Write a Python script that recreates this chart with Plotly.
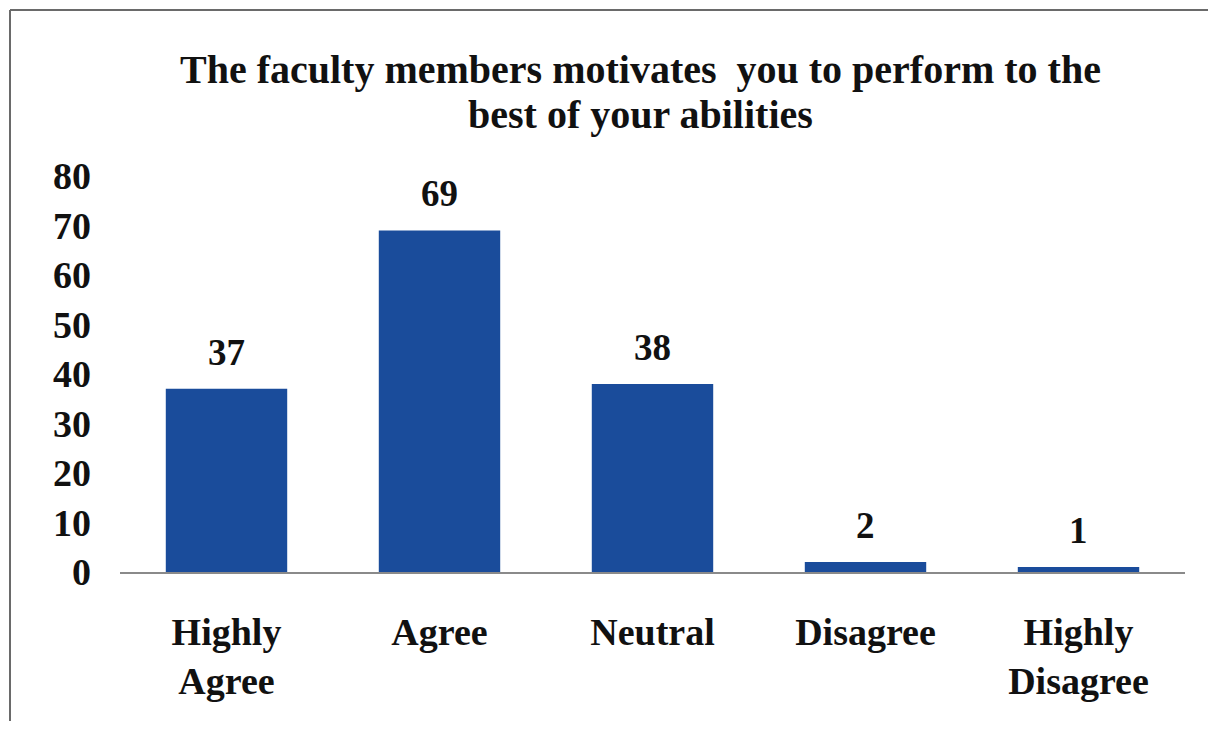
import plotly.graph_objects as go

CATEGORIES = ["Highly<br>Agree", "Agree", "Neutral", "Disagree", "Highly<br>Disagree"]
RESPONSES = [37, 69, 38, 2, 1]
Y_TICKS = [0, 10, 20, 30, 40, 50, 60, 70, 80]

TITLE_LINES = ["The faculty members motivates  you to perform to the",
               "best of your abilities"]

BAR_COLOR = "#1a4c9b"
FONT = "Times New Roman, Liberation Serif, serif"
TEXT_COLOR = "#111111"
FRAME_COLOR = "#6a6a6a"

# figure is drawn 8px in from the page corner (body margin), keep it inside the window
FIG_W, FIG_H = 1200, 713
# plot area in figure pixels
PX_L, PX_R, PX_T, PX_B = 112, 1177, 168, 564


def _px_x(x):
    return (x - PX_L) / (PX_R - PX_L)


def _px_y(y):
    return (PX_B - y) / (PX_B - PX_T)


fig = go.Figure()
fig.add_trace(go.Bar(
    x=CATEGORIES, y=RESPONSES,
    marker=dict(color=BAR_COLOR, line=dict(width=0)),
    showlegend=False, hoverinfo="x+y",
))

# value labels above the bars
annotations = [
    dict(x=c, y=v, xref="x", yref="y", text=str(v), showarrow=False,
         yanchor="bottom", yshift=14,
         font=dict(family=FONT, size=37, color=TEXT_COLOR, weight=700))
    for c, v in zip(CATEGORIES, RESPONSES)
]
# two-line title, set line by line to get tighter leading
for line, yc in zip(TITLE_LINES, [62, 106]):
    annotations.append(dict(
        x=_px_x(632), y=_px_y(yc), xref="paper", yref="paper",
        text=line, showarrow=False, xanchor="center", yanchor="middle",
        font=dict(family=FONT, size=40, color=TEXT_COLOR, weight=700),
    ))

# scanned frame: only the left and top edges are inside the picture
frame = [
    dict(type="line", xref="paper", yref="paper",
         x0=_px_x(2), x1=_px_x(2), y0=_px_y(FIG_H + 5), y1=_px_y(2),
         line=dict(color=FRAME_COLOR, width=2), layer="below"),
    dict(type="line", xref="paper", yref="paper",
         x0=_px_x(2), x1=_px_x(FIG_W + 5), y0=_px_y(2), y1=_px_y(2),
         line=dict(color=FRAME_COLOR, width=2), layer="below"),
]

fig.update_layout(
    width=FIG_W, height=FIG_H,
    paper_bgcolor="white", plot_bgcolor="white",
    margin=dict(l=PX_L, r=FIG_W - PX_R, t=PX_T, b=FIG_H - PX_B),
    bargap=0.43,
    font=dict(family=FONT, size=38, color=TEXT_COLOR, weight=700),
    xaxis=dict(
        showline=True, linecolor="#8a8a8a", linewidth=2,
        ticks="", showgrid=False, ticklabelstandoff=25,
        tickfont=dict(family=FONT, size=38, weight=700),
    ),
    yaxis=dict(
        range=[0, 80], tickvals=Y_TICKS, showgrid=False, zeroline=False,
        showline=False, ticks="", ticklabelstandoff=28,
        tickfont=dict(family=FONT, size=38, weight=700),
    ),
    annotations=annotations,
    shapes=frame,
)

fig.write_html("out.html")
